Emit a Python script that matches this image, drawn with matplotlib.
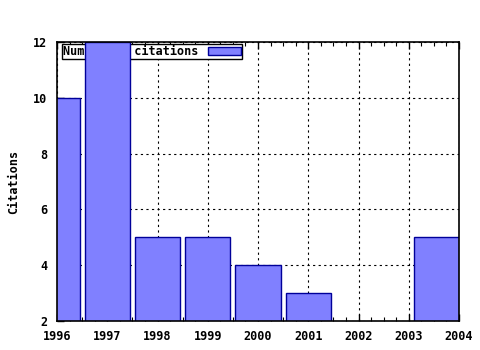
import numpy as np
import matplotlib
matplotlib.use('Agg')
from matplotlib import pyplot as plt
from matplotlib.ticker import MultipleLocator

years = [1996, 1997, 1998, 1999, 2000, 2001, 2002, 2004]
citations = [10, 12, 5, 5, 4, 3, 0, 5]
yticks = [2, 4, 6, 8, 10, 12]
xticks = [1996, 1997, 1998, 1999, 2000, 2001, 2002, 2003, 2004]

plt.rcParams['font.family'] = 'DejaVu Sans Mono'
plt.rcParams['font.weight'] = 'bold'

# gnuplot style relative box width: last box uses gap to previous point
widths = [0.9] * len(years)
widths[-1] = 0.9 * (years[-1] - years[-2])

fig = plt.figure(figsize=(4.8, 3.5), dpi=100)
ax = fig.add_axes([57/480, 29/350, 402/480, 279/350])

bars = ax.bar(years, citations, width=widths, bottom=0, color='#8080ff',
              edgecolor='#000099', linewidth=1.0, zorder=3,
              label='Number of citations')

ax.set_xlim(1996, 2004)
ax.set_ylim(2, 12)
ax.set_xticks(xticks)
ax.set_xticklabels([str(x) for x in xticks])
ax.set_yticks(yticks)
ax.xaxis.set_minor_locator(MultipleLocator(0.25))
ax.tick_params(axis='both', which='major', direction='in', length=5, width=1,
               labelsize=8.5, top=True, right=False)
ax.tick_params(axis='x', which='major', pad=6.5)
ax.tick_params(axis='y', which='major', pad=7)
ax.tick_params(axis='x', which='minor', direction='in', length=3, width=0.8, top=True)
ax.grid(True, which='major', color='black', linestyle=(0, (2, 3)), linewidth=0.8, zorder=1)
ax.set_axisbelow(True)
for s in ax.spines.values():
    s.set_linewidth(1.2)
    s.set_zorder(5)

ax.set_ylabel('Citations', fontsize=8.5, fontweight='bold', labelpad=9)

leg = ax.legend(loc='upper left', bbox_to_anchor=(0.013, 0.993), fontsize=8.5,
                markerfirst=False, fancybox=False, framealpha=1, edgecolor='black',
                borderpad=0.1, handlelength=2.8, handleheight=0.6, handletextpad=0.8,
                borderaxespad=0)
leg.get_frame().set_linewidth(1)
leg.set_zorder(2)

fig.savefig('out.png', dpi=100)
